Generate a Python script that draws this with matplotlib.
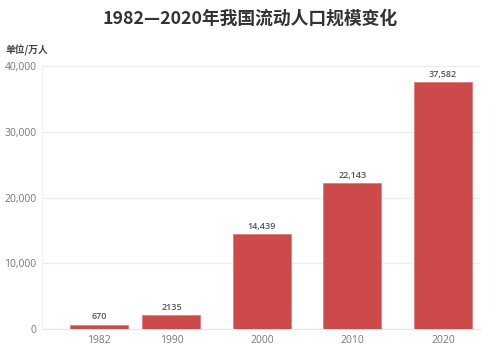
import matplotlib.pyplot as plt

plt.rcParams['font.family'] = ['Noto Sans CJK SC', 'DejaVu Sans']

years = [1982, 1990, 2000, 2010, 2020]
values = [670, 2135, 14439, 22143, 37582]
labels = ['670', '2135', '14,439', '22,143', '37,582']
yticks = [0, 10000, 20000, 30000, 40000]

fig = plt.figure(figsize=(5, 3.52), dpi=100)
ax = fig.add_axes([0.084, 0.065, 0.876, 0.7475])

ax.bar(years, values, width=6.4, color='#cc4a4a', edgecolor='#e07c7c', linewidth=0.6, zorder=3)
for x, v, t in zip(years, values, labels):
    ax.text(x, v + 500, t, ha='center', va='bottom', fontsize=6.5, color='#555555',
            family=['Open Sans', 'DejaVu Sans'], fontweight='semibold')

ax.set_xlim(1975.7, 2024.1)
ax.set_ylim(0, 40000)
ax.set_xticks(years)
ax.set_yticks(yticks)
ax.set_yticklabels(['{:,}'.format(v) for v in yticks])
for lab in ax.get_xticklabels() + ax.get_yticklabels():
    lab.set_family(['Open Sans', 'DejaVu Sans'])
ax.tick_params(axis='both', length=0, labelsize=7.5, colors='#777777')
ax.tick_params(axis='x', pad=4)
ax.tick_params(axis='y', pad=4)
ax.grid(axis='y', color='#ececec', linewidth=0.9, zorder=0)
for s in ['top', 'right']:
    ax.spines[s].set_visible(False)
ax.spines['left'].set_color('#f2f2f2')
ax.spines['bottom'].set_color('#e6e6e6')

fig.text(0.5, 0.948, '1982—2020年我国流动人口规模变化', ha='center', va='center',
         fontsize=12.8, fontweight='bold', color='#333333')
fig.text(0.012, 0.857, '单位/万人', ha='left', va='center', fontsize=7,
         fontweight='bold', color='#444444')

fig.savefig('out.png', dpi=100)
